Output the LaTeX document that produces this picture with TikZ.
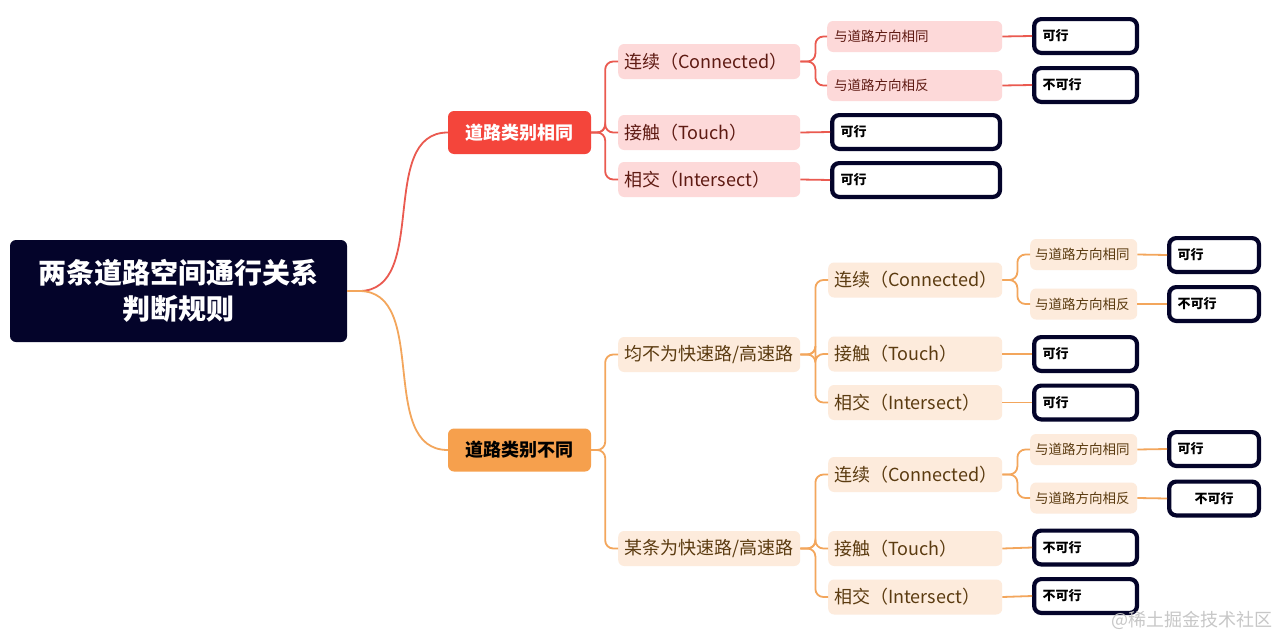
\documentclass[tikz,border=0pt]{standalone}
\usepackage{fontspec}
\setmainfont{Noto Sans CJK SC}
\definecolor{rootc}{HTML}{04042A}
\definecolor{redfill}{HTML}{F4453B}
\definecolor{redline}{HTML}{EA5A50}
\definecolor{pinkfill}{HTML}{FDD9D9}
\definecolor{redtext}{HTML}{5E1A12}
\definecolor{orfill}{HTML}{F6A04D}
\definecolor{orline}{HTML}{F3A65C}
\definecolor{peachfill}{HTML}{FDEBDC}
\definecolor{brtext}{HTML}{5B3B10}
\begin{document}
\begin{tikzpicture}[x=1pt,y=-1pt,
  rootbox/.style={fill=rootc, rounded corners=6pt, text=white, font=\fontsize{28}{36}\selectfont\bfseries, align=center, minimum width=337pt, minimum height=102pt, inner sep=0pt},
  lone/.style={rounded corners=6pt, font=\fontsize{18}{20}\selectfont\bfseries, minimum width=143pt, minimum height=43pt, inner sep=0pt},
  midbox/.style={rounded corners=6pt, font=\fontsize{18}{20}\selectfont, minimum height=35pt, inner xsep=6pt, inner ysep=0pt, align=left, anchor=west},
  smallbox/.style={rounded corners=6pt, font=\fontsize{13.5}{15}\selectfont, minimum height=31pt, inner ysep=0pt, align=left, anchor=west},
  redmid/.style={midbox, fill=pinkfill, text=redtext, text width=170pt},
  redsmall/.style={smallbox, fill=pinkfill, text=redtext, inner xsep=7pt, text width=161pt},
  ormid/.style={midbox, fill=peachfill, text=brtext, text width=170pt},
  ormidb/.style={midbox, fill=peachfill, text=brtext, text width=162pt},
  orsmall/.style={smallbox, fill=peachfill, text=brtext, inner xsep=5pt, text width=97pt},
  leaf/.style={draw=rootc, line width=4.2pt, rounded corners=7pt, fill=white, text=black, font=\fontsize{13}{15}\selectfont\bfseries, align=left, anchor=west, inner xsep=8.5pt, inner ysep=0pt, minimum height=33.8pt},
  leafA/.style={leaf, text width=85.8pt},
  leafB/.style={leaf, text width=150.8pt},
  leafC/.style={leaf, text width=72.8pt},
  rl/.style={draw=redline, line width=1.8pt, rounded corners=8pt},
  ol/.style={draw=orline, line width=1.8pt, rounded corners=8pt}
]
\useasboundingbox[fill=white] (0,0) rectangle (1278,637);

% root
\node[rootbox] (root) at (178.5,291) {两条道路空间通行关系\\判断规则};

% level 1
\node[lone, fill=redfill, text=white] (same) at (519.5,132.5) {道路类别相同};
\node[lone, fill=orfill, text=black] (diff) at (519.5,450) {道路类别不同};

% red branch
\node[redmid] (rc) at (618,61.5) {连续（Connected）};
\node[redmid] (rt) at (618,132.5) {接触（Touch）};
\node[redmid] (ri) at (618,179.5) {相交（Intersect）};
\node[redsmall] (rcs) at (827,36.5) {与道路方向相同};
\node[redsmall] (rco) at (827,85.5) {与道路方向相反};
\node[leafA] (rcsl) at (1032.1,36) {可行};
\node[leafA] (rcol) at (1032.1,85) {不可行};
\node[leafB] (rtl) at (830.1,132) {可行};
\node[leafB] (ril) at (830.1,180) {可行};

% orange branch: 均不为
\node[ormid] (na) at (618,354.5) {均不为快速路/高速路};
\node[ormidb] (nac) at (828,280) {连续（Connected）};
\node[ormidb] (nat) at (828,354) {接触（Touch）};
\node[ormidb] (nai) at (828,402.5) {相交（Intersect）};
\node[orsmall] (nacs) at (1030,254.5) {与道路方向相同};
\node[orsmall] (naco) at (1030,304) {与道路方向相反};
\node[leafC] (nacsl) at (1167.1,255) {可行};
\node[leafC] (nacol) at (1167.1,304) {不可行};
\node[leafA] (natl) at (1032.1,354) {可行};
\node[leafA] (nail) at (1032.1,402.5) {可行};

% orange branch: 某条为
\node[ormid] (so) at (618,548.5) {某条为快速路/高速路};
\node[ormidb] (soc) at (828,474.5) {连续（Connected）};
\node[ormidb] (sot) at (828,548.5) {接触（Touch）};
\node[ormidb] (soi) at (828,597) {相交（Intersect）};
\node[orsmall] (socs) at (1030,449.5) {与道路方向相同};
\node[orsmall] (soco) at (1030,498) {与道路方向相反};
\node[leafC] (socsl) at (1167.1,449) {可行};
\node[leafC, align=center] (socol) at (1167.1,498.5) {不可行};
\node[leafA] (sotl) at (1032.1,547.5) {不可行};
\node[leafA] (soil) at (1032.1,596) {不可行};

% watermark
\node[font=\fontsize{18}{20}\selectfont, text=black!22, anchor=east, inner sep=0pt] (wm) at (1273,620) {@稀土掘金技术社区};

% connectors root -> level 1
\draw[draw=redline, line width=1.8pt] (root.east) -- ++(12,0) to[out=0,in=180] (same.west);
\draw[draw=orline, line width=1.8pt] (root.east) -- ++(12,0) to[out=0,in=180] (diff.west);

% red connectors
\foreach \c in {rc,rt,ri} \draw[rl] (same.east) -- ++(14,0) |- (\c.west);
\foreach \c in {rcs,rco} \draw[rl] (rc.east) -- ++(15,0) |- (\c.west);
\draw[rl] (rcs.east) -- (rcsl.west);
\draw[rl] (rco.east) -- (rcol.west);
\draw[rl] (rt.east) -- (rtl.west);
\draw[rl] (ri.east) -- (ril.west);

% orange connectors
\foreach \c in {na,so} \draw[ol] (diff.east) -- ++(14,0) |- (\c.west);
\foreach \c in {nac,nat,nai} \draw[ol] (na.east) -- ++(15,0) |- (\c.west);
\foreach \c in {nacs,naco} \draw[ol] (nac.east) -- ++(15,0) |- (\c.west);
\draw[ol] (nacs.east) -- (nacsl.west);
\draw[ol] (naco.east) -- (nacol.west);
\draw[ol] (nat.east) -- (natl.west);
\draw[ol] (nai.east) -- (nail.west);
\foreach \c in {soc,sot,soi} \draw[ol] (so.east) -- ++(15,0) |- (\c.west);
\foreach \c in {socs,soco} \draw[ol] (soc.east) -- ++(15,0) |- (\c.west);
\draw[ol] (socs.east) -- (socsl.west);
\draw[ol] (soco.east) -- (socol.west);
\draw[ol] (sot.east) -- (sotl.west);
\draw[ol] (soi.east) -- (soil.west);
\end{tikzpicture}
\end{document}
